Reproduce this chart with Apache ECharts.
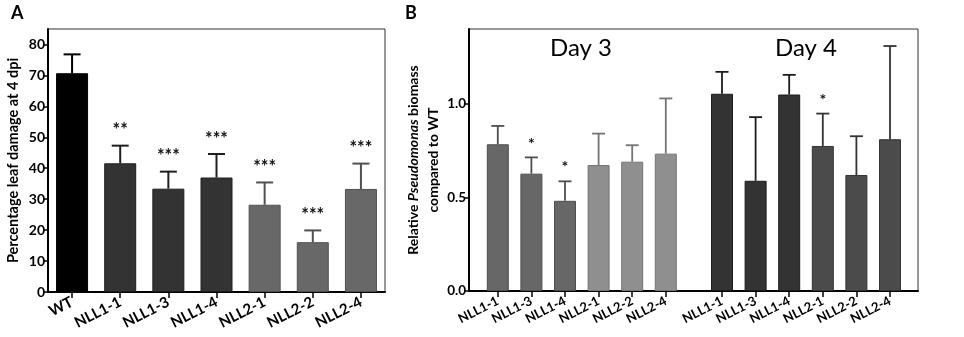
<!DOCTYPE html>
<html>
<head>
<meta charset="utf-8">
<script src="https://cdn.jsdelivr.net/npm/echarts@6/dist/echarts.min.js"></script>
<style>
html,body{margin:0;padding:0;background:#fff;}
#chart{width:964px;height:337px;}
</style>
</head>
<body>
<div id="chart"></div>
<script>
// ---- Panel A data ----
const catsA = ['WT', 'NLL1-1', 'NLL1-3', 'NLL1-4', 'NLL2-1', 'NLL2-2', 'NLL2-4'];
const damageMean = [70.7, 41.6, 33.4, 37.0, 28.2, 16.1, 33.3];
const damageErrTop = [76.8, 47.3, 38.9, 44.6, 35.4, 19.9, 41.5];
const damageSig = ['', '**', '***', '***', '***', '***', '***'];
const ticksA = [0, 10, 20, 30, 40, 50, 60, 70, 80];

// ---- Panel B data ----
const catsB = ['NLL1-1', 'NLL1-3', 'NLL1-4', 'NLL2-1', 'NLL2-2', 'NLL2-4'];
const day3Mean = [0.784, 0.627, 0.482, 0.673, 0.691, 0.734];
const day3ErrTop = [0.882, 0.714, 0.586, 0.841, 0.779, 1.029];
const day3Sig = ['', '*', '*', '', '', ''];
const day4Mean = [1.054, 0.589, 1.050, 0.775, 0.620, 0.811];
const day4ErrTop = [1.171, 0.929, 1.155, 0.948, 0.827, 1.309];
const day4Sig = ['', '', '', '*', '', ''];
const ticksB = [0, 0.5, 1.0];
const tickLabelsB = ['0.0', '0.5', '1.0'];

const FONT = 'Lato';

function colorA(name) {
  if (name === 'WT') return ['#000000', '#000000'];
  if (name.indexOf('NLL1') === 0) return ['#333333', '#1e1e1e'];
  return ['#686868', '#505050'];
}
function colorB(day, name) {
  const nll1 = name.indexOf('NLL1') === 0;
  if (day === 3) return nll1 ? ['#676767', '#4e4e4e'] : ['#8f8f8f', '#747474'];
  return nll1 ? ['#333333', '#1c1c1c'] : ['#4b4b4b', '#333333'];
}

function barData(cats, means, colorFn) {
  return means.map((v, i) => {
    const c = colorFn(cats[i]);
    return { value: v, itemStyle: { color: c[0], borderColor: c[1], borderWidth: 1 } };
  });
}

function errSeries(xi, yi, cats, means, tops, sigs, colorFn, capW, lw, starSize) {
  return {
    type: 'custom',
    xAxisIndex: xi, yAxisIndex: yi,
    z: 5,
    data: means.map((m, i) => [i, m, tops[i]]),
    renderItem: function (params, api) {
      const i = api.value(0);
      const base = api.coord([i, api.value(1)]);
      const top = api.coord([i, api.value(2)]);
      const col = colorFn(cats[params.dataIndex])[1];
      const children = [
        { type: 'line', shape: { x1: base[0], y1: base[1], x2: top[0], y2: top[1] },
          style: { stroke: col, lineWidth: lw } },
        { type: 'line', shape: { x1: top[0] - capW / 2, y1: top[1], x2: top[0] + capW / 2, y2: top[1] },
          style: { stroke: col, lineWidth: lw } }
      ];
      const s = sigs[params.dataIndex];
      if (s) {
        children.push({ type: 'text', x: top[0], y: top[1] - 6,
          style: { text: s, fill: '#111', font: 'bold ' + starSize + 'px ' + FONT, align: 'center', verticalAlign: 'bottom' } });
      }
      return { type: 'group', children: children };
    }
  };
}

const chart = echarts.init(document.getElementById('chart'), null, { renderer: 'canvas' });

const axisBlack = { show: true, lineStyle: { color: '#000', width: 2 } };

const option = {
  animation: false,
  backgroundColor: '#fff',
  grid: [
    { left: 48, right: 579, top: 29, bottom: 45, show: true, borderColor: '#333', borderWidth: 1 },
    { left: 469, right: 46, top: 29, bottom: 46, show: true, borderColor: '#333', borderWidth: 1 },
    { left: 481, right: 281.4, top: 29, bottom: 46 },
    { left: 705.2, right: 57.2, top: 29, bottom: 46 }
  ],
  xAxis: [
    { gridIndex: 0, type: 'category', data: catsA,
      axisLine: axisBlack,
      axisTick: { show: true, alignWithLabel: true, length: 6, lineStyle: { color: '#000', width: 1.5 } },
      axisLabel: { interval: 0, rotate: 27, margin: 9, color: '#000', fontWeight: 'bold', fontSize: 15, fontFamily: FONT } },
    { gridIndex: 1, type: 'value', min: 0, max: 1,
      axisLine: axisBlack, axisTick: { show: false }, axisLabel: { show: false }, splitLine: { show: false } },
    { gridIndex: 2, type: 'category', data: catsB,
      axisLine: { show: false },
      axisTick: { show: true, alignWithLabel: true, length: 6, lineStyle: { color: '#000', width: 1.5 } },
      axisLabel: { interval: 0, rotate: 27, margin: 9, color: '#000', fontWeight: 'bold', fontSize: 13, fontFamily: FONT } },
    { gridIndex: 3, type: 'category', data: catsB,
      axisLine: { show: false },
      axisTick: { show: true, alignWithLabel: true, length: 6, lineStyle: { color: '#000', width: 1.5 } },
      axisLabel: { interval: 0, rotate: 27, margin: 9, color: '#000', fontWeight: 'bold', fontSize: 13, fontFamily: FONT } }
  ],
  yAxis: [
    { gridIndex: 0, type: 'value', min: 0, max: 85,
      name: 'Percentage leaf damage at 4 dpi', nameLocation: 'middle', nameGap: 27,
      nameTextStyle: { color: '#000', fontWeight: 'bold', fontSize: 14.5, fontFamily: FONT },
      axisLine: axisBlack,
      axisTick: { show: true, length: 5, customValues: ticksA, lineStyle: { color: '#000', width: 1.5 } },
      axisLabel: { customValues: ticksA, margin: 3, color: '#000', fontWeight: 'bold', fontSize: 14, fontFamily: FONT },
      splitLine: { show: false } },
    { gridIndex: 1, type: 'value', min: 0, max: 1.4,
      name: '{b|Relative }{i|Pseudomonas}{b| biomass}\n{b|compared to WT}',
      nameLocation: 'middle', nameGap: 17,
      nameTextStyle: { color: '#000', fontSize: 14, lineHeight: 20, fontWeight: 'bold', fontFamily: FONT, rich: {
        b: { fontWeight: 'bold', fontSize: 14, fontFamily: FONT, color: '#000', lineHeight: 20 },
        i: { fontWeight: 'bold', fontStyle: 'italic', fontSize: 14, fontFamily: FONT, color: '#000', lineHeight: 20 } } },
      axisLine: axisBlack,
      axisTick: { show: true, length: 5, customValues: ticksB, lineStyle: { color: '#000', width: 1.5 } },
      axisLabel: { customValues: ticksB, margin: 3, color: '#000', fontWeight: 'bold', fontSize: 13.5, fontFamily: FONT,
        formatter: function (v) { const k = ticksB.indexOf(v); return k >= 0 ? tickLabelsB[k] : v.toFixed(1); } },
      splitLine: { show: false } },
    { gridIndex: 2, type: 'value', min: 0, max: 1.4, show: false },
    { gridIndex: 3, type: 'value', min: 0, max: 1.4, show: false }
  ],
  graphic: [
    { type: 'text', left: 11, top: 4, style: { text: 'A', font: 'bold 18px ' + FONT, fill: '#000' } },
    { type: 'text', left: 405, top: 4, style: { text: 'B', font: 'bold 18px ' + FONT, fill: '#000' } },
    { type: 'text', x: 581, y: 48, style: { text: 'Day 3', font: '24px ' + FONT, fill: '#000', align: 'center', verticalAlign: 'middle' } },
    { type: 'text', x: 806, y: 48, style: { text: 'Day 4', font: '24px ' + FONT, fill: '#000', align: 'center', verticalAlign: 'middle' } }
  ],
  series: [
    { type: 'bar', xAxisIndex: 0, yAxisIndex: 0, barWidth: 32, data: barData(catsA, damageMean, colorA) },
    errSeries(0, 0, catsA, damageMean, damageErrTop, damageSig, colorA, 17, 2, 18),
    { type: 'bar', xAxisIndex: 2, yAxisIndex: 2, barWidth: 22, data: barData(catsB, day3Mean, n => colorB(3, n)) },
    errSeries(2, 2, catsB, day3Mean, day3ErrTop, day3Sig, n => colorB(3, n), 13, 1.8, 16),
    { type: 'bar', xAxisIndex: 3, yAxisIndex: 3, barWidth: 22, data: barData(catsB, day4Mean, n => colorB(4, n)) },
    errSeries(3, 3, catsB, day4Mean, day4ErrTop, day4Sig, n => colorB(4, n), 13, 1.8, 16)
  ]
};
chart.setOption(option);
</script>
</body>
</html>
